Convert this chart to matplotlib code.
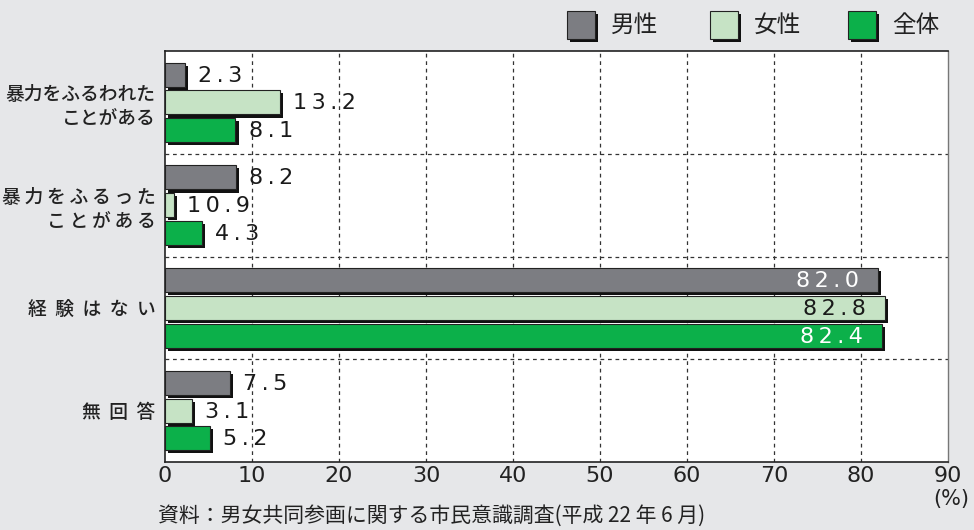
import matplotlib
matplotlib.use("Agg")
import matplotlib.pyplot as plt
import matplotlib.patheffects as pe
from matplotlib.patches import Rectangle
import numpy as np

plt.rcParams['font.family'] = ['Noto Sans CJK JP', 'DejaVu Sans']

categories = ["暴力をふるわれた\nことがある",
              "暴\u2009力\u2009を\u2009ふ\u2009る\u2009っ\u2009た\nこ\u2009と\u2009が\u2009あ\u2009る",
              "経  験  は  な  い", "無  回  答"]
series_names = ["男性", "女性", "全体"]
male = [2.3, 8.2, 82.0, 7.5]
female = [13.2, 1.0, 82.8, 3.1]
total = [8.1, 4.3, 82.4, 5.2]
male_labels = ["2.3", "8.2", "82.0", "7.5"]
female_labels = ["13.2", "10.9", "82.8", "3.1"]
total_labels = ["8.1", "4.3", "82.4", "5.2"]
xticks = [0, 10, 20, 30, 40, 50, 60, 70, 80, 90]
source = "資料：男女共同参画に関する市民意識調査(平成 22 年 6 月)"

colors = ["#7c7d82", "#c6e3c5", "#0cb04a"]
bg = "#e6e7e9"

fig = plt.figure(figsize=(9.74, 5.30), dpi=100, facecolor=bg)
ax = fig.add_axes([165/974, 1-462/530, (948-165)/974, (462-51)/530])
ax.set_facecolor("white")

n = len(categories)
bar_h = 0.235
step = 0.27
shadow = [pe.SimplePatchShadow(offset=(2.2, -2.2), shadow_rgbFace="#111111", alpha=1.0), pe.Normal()]

def spaced(s):
    return "\u2009".join(list(s))

series = [(male, male_labels), (female, female_labels), (total, total_labels)]
for si, (vals, labs) in enumerate(series):
    for gi in range(n):
        yc = gi + 0.5 + (si - 1) * step
        b = ax.barh(yc, vals[gi], height=bar_h, color=colors[si], edgecolor="#222222",
                    linewidth=0.8, left=0, zorder=3)
        for p in b.patches:
            p.set_path_effects(shadow)
        v = vals[gi]
        if v > 50:
            tc = "#1a1a1a" if si == 1 else "white"
            ax.text(v - 2.2, yc + 0.01, spaced(labs[gi]), ha="right", va="center",
                    fontsize=16, color=tc, family="DejaVu Sans", zorder=5)
        else:
            ax.text(v + 1.5, yc + 0.01, spaced(labs[gi]), ha="left", va="center",
                    fontsize=16, color="#1a1a1a", family="DejaVu Sans", zorder=5)

ax.set_xlim(0, 90)
ax.set_ylim(n, 0)
ax.set_xticks(xticks)
ax.set_xticklabels([str(t) for t in xticks], fontsize=16, family="DejaVu Sans", color="#222222")
ax.tick_params(axis="x", length=0, pad=3)
ax.set_yticks([g + 0.5 for g in range(n)])
ax.set_yticklabels(categories, fontsize=13.5, color="#222222", linespacing=1.3, fontweight="medium")
ax.tick_params(axis="y", length=0, pad=7)
for lab in ax.get_yticklabels():
    lab.set_horizontalalignment("right")
    lab.set_multialignment("right")

for x in xticks[1:-1]:
    ax.axvline(x, color="#333333", lw=0.9, ls=(0, (3, 3)), zorder=1)
for g in range(1, n):
    ax.axhline(g, color="#333333", lw=0.9, ls=(0, (3, 3)), zorder=1)

for s in ["top", "bottom", "left"]:
    ax.spines[s].set_color("#222222")
    ax.spines[s].set_linewidth(1.2)
ax.spines["right"].set_color("#777777")
ax.spines["right"].set_linewidth(1.0)

fig.text(951/974, 1-499/530, "(%)", ha="center", va="center", fontsize=15, color="#222222",
         family="DejaVu Sans")
fig.text(158/974, 1-516/530, source, ha="left", va="center", fontsize=15, color="#222222")

# legend
leg_x = [567, 710, 848]
for i, name in enumerate(series_names):
    r = Rectangle((leg_x[i]/974, 1-39/530), 28/974, 28/530, transform=fig.transFigure,
                  facecolor=colors[i], edgecolor="#222222", lw=0.8)
    r.set_path_effects([pe.SimplePatchShadow(offset=(2.2, -2.2), shadow_rgbFace="#111111", alpha=1.0), pe.Normal()])
    fig.patches.append(r)
    fig.text((leg_x[i] + 44)/974, 1-25/530, name, ha="left", va="center", fontsize=17, color="#222222")

fig.savefig("out.png", dpi=100, facecolor=bg)
